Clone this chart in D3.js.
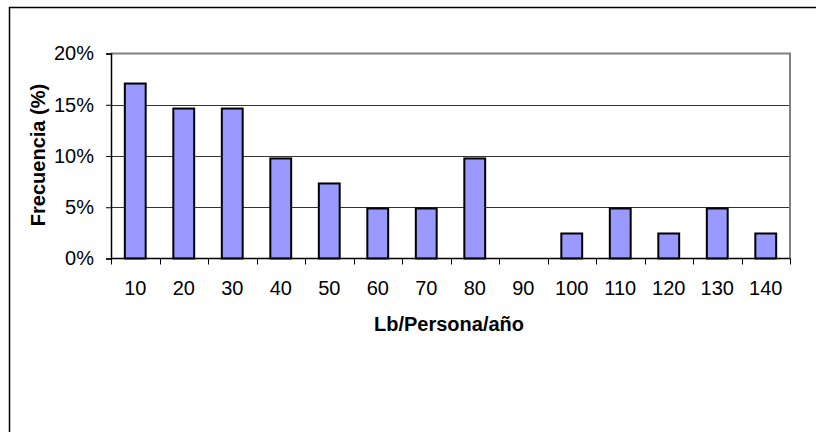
<!DOCTYPE html>
<html>
<head>
<meta charset="utf-8">
<script src="https://cdn.jsdelivr.net/npm/d3@7"></script>
<style>
  html, body { margin: 0; padding: 0; background: #fff; }
  svg { display: block; font-family: "Liberation Sans", Arial, sans-serif; }
</style>
</head>
<body>
<svg id="chart" width="816" height="432"></svg>
<script>
// Frequency distribution of pounds per person per year
const categories = ["10", "20", "30", "40", "50", "60", "70", "80", "90", "100", "110", "120", "130", "140"];
const frequencies = [0.1707, 0.1463, 0.1463, 0.0976, 0.0732, 0.0488, 0.0488, 0.0976, 0, 0.0244, 0.0488, 0.0244, 0.0488, 0.0244];
const yTicks = [0, 0.05, 0.10, 0.15, 0.20];

const svg = d3.select("#chart");
const plot = { left: 111, right: 790, top: 53.5, bottom: 258.5 };
const FONT = "Liberation Sans, Arial, sans-serif";

// chart frame
svg.append("rect")
  .attr("x", 9.5).attr("y", 7.5)
  .attr("width", 900).attr("height", 500)
  .attr("fill", "none").attr("stroke", "#000").attr("stroke-width", 1.5);

const x = d3.scaleBand().domain(categories).range([plot.left, plot.right]).paddingInner(0.57).paddingOuter(0.285);
const xEdges = d3.scaleLinear().domain([0, categories.length]).range([plot.left, plot.right]);
const y = d3.scaleLinear().domain([0, 0.20]).range([plot.bottom, plot.top]);

// gridlines
svg.append("g").selectAll("line").data(yTicks.slice(1, -1)).join("line")
  .attr("x1", plot.left).attr("x2", plot.right)
  .attr("y1", d => Math.round(y(d)) + 0.5).attr("y2", d => Math.round(y(d)) + 0.5)
  .attr("stroke", "#333").attr("stroke-width", 1);

// plot border (top & right)
svg.append("path")
  .attr("d", `M${plot.left},${plot.top}H${plot.right}V${plot.bottom}`)
  .attr("fill", "none").attr("stroke", "#808080").attr("stroke-width", 2);

// bars
svg.append("g").selectAll("rect").data(categories).join("rect")
  .attr("x", d => x(d))
  .attr("width", x.bandwidth())
  .attr("y", (d, i) => y(frequencies[i]))
  .attr("height", (d, i) => plot.bottom - y(frequencies[i]))
  .attr("fill", "#9999FF")
  .attr("stroke", "#000").attr("stroke-width", 2)
  .style("display", (d, i) => frequencies[i] > 0 ? null : "none");

// y axis
const yAxis = svg.append("g")
  .attr("transform", `translate(${plot.left},0)`)
  .call(d3.axisLeft(y).tickValues(yTicks).tickFormat(d3.format(".0%")).tickSize(5).tickPadding(12));
yAxis.select(".domain").attr("stroke", "#000").attr("stroke-width", 1.5);
yAxis.selectAll(".tick line").attr("stroke", "#000");
yAxis.selectAll("text").attr("font-size", 20).attr("fill", "#000").attr("font-family", FONT);

// x axis line and boundary ticks
const xg = svg.append("g");
xg.append("line")
  .attr("x1", plot.left).attr("x2", plot.right)
  .attr("y1", plot.bottom).attr("y2", plot.bottom)
  .attr("stroke", "#000").attr("stroke-width", 1.5);
xg.selectAll("line.tk").data(d3.range(categories.length + 1)).join("line")
  .attr("class", "tk")
  .attr("x1", i => Math.round(xEdges(i)) + 0.5).attr("x2", i => Math.round(xEdges(i)) + 0.5)
  .attr("y1", plot.bottom).attr("y2", plot.bottom + 6)
  .attr("stroke", "#000");
xg.selectAll("text").data(categories).join("text")
  .attr("x", d => x(d) + x.bandwidth() / 2)
  .attr("y", 295)
  .attr("text-anchor", "middle")
  .attr("font-size", 20)
  .text(d => d);

// axis titles
svg.append("text")
  .attr("x", 449).attr("y", 331)
  .attr("text-anchor", "middle")
  .attr("font-size", 20).attr("font-weight", "bold")
  .text("Lb/Persona/año");

svg.append("text")
  .attr("transform", "translate(45,155) rotate(-90)")
  .attr("text-anchor", "middle")
  .attr("font-size", 20).attr("font-weight", "bold")
  .text("Frecuencia (%)");
</script>
</body>
</html>
